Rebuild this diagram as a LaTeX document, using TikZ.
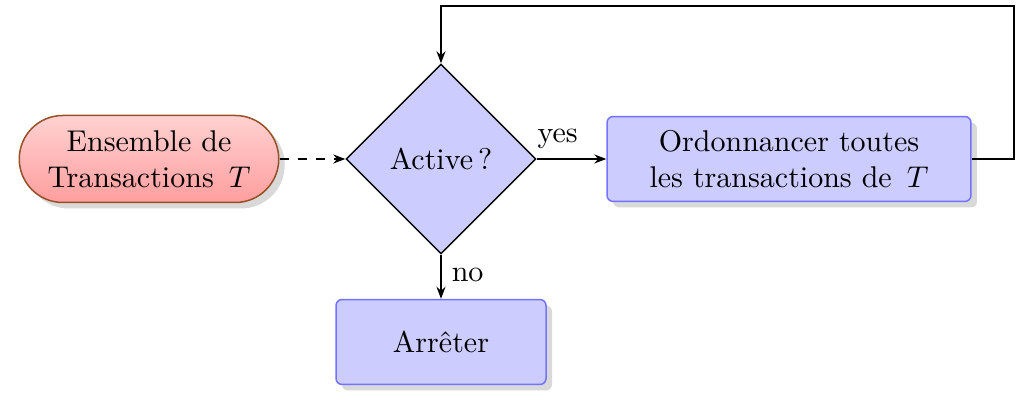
\documentclass[tikz,border=0pt]{standalone}
\usetikzlibrary{shapes.geometric,shapes.misc,shadows,arrows.meta}
\begin{document}
\begin{tikzpicture}[x=1pt,y=1pt,
  myshadow/.style={drop shadow={opacity=0.3, shadow xshift=2pt, shadow yshift=-2pt}},
  startbox/.style={rounded rectangle, draw={rgb,255:red,150;green,80;blue,40}, top color=red!18, bottom color=red!38,
    minimum width=90.5pt, minimum height=29pt, align=center, inner sep=2pt, myshadow, line width=0.5pt},
  decbox/.style={diamond, draw=black, fill=blue!20, minimum width=63.3pt, minimum height=63.3pt, inner sep=0pt, line width=0.5pt},
  procbox/.style={rectangle, rounded corners=2pt, draw=blue!55, fill=blue!20, minimum height=28.3pt, align=center,
    myshadow, line width=0.5pt},
  conn/.style={-{Stealth[length=4pt,width=3pt]}, line width=0.5pt}]
\useasboundingbox (0,0) rectangle (340.33,136);
\node[startbox] (ens) at (49.67,83) {Ensemble de\\Transactions\ \,$T$};
\node[decbox] (dia) at (147,83) {Active\,?};
\node[procbox, minimum width=121.3pt] (ord) at (263,83) {Ordonnancer toutes\\les transactions de\ \,$T$};
\node[procbox, minimum width=70pt] (arr) at (147,22) {Arrêter};
\coordinate (c1) at (338,134);
\draw[conn, dashed] (ens.east) -- (dia.west);
\draw[conn] (dia.east) -- node[above, pos=0.3] {yes} (ord.west);
\draw[conn] (dia.south) -- node[right, pos=0.45] {no} (arr.north);
\draw[conn] (ord.east) -| (c1) -| (dia.north);
\end{tikzpicture}
\end{document}
